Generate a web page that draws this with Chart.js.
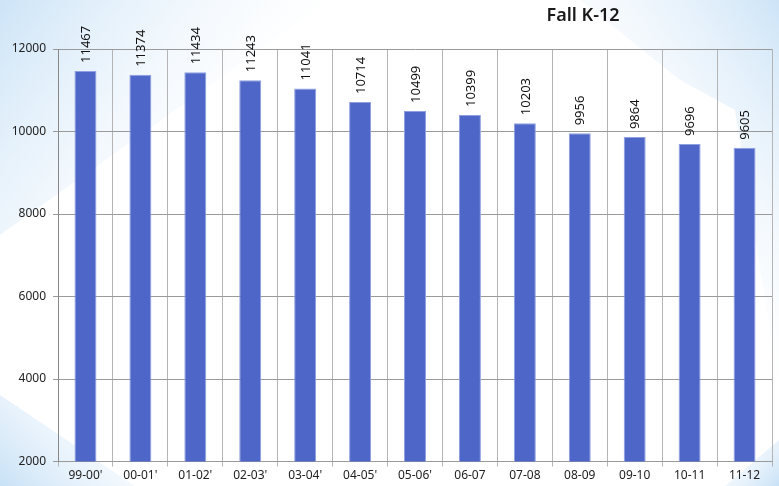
<!DOCTYPE html>
<html>
<head>
<meta charset="utf-8">
<script src="https://cdn.jsdelivr.net/npm/chart.js@4.4.0/dist/chart.umd.min.js"></script>
<style>
  html, body { margin: 0; padding: 0; background: #fff; }
  #wrap { width: 779px; height: 486px; position: relative; }
</style>
</head>
<body>
<div id="wrap"><canvas id="chart" width="779" height="486"></canvas></div>
<script>
// Data
const years = ["99-00'", "00-01'", "01-02'", "02-03'", "03-04'", "04-05'", "05-06'", "06-07", "07-08", "08-09", "09-10", "10-11", "11-12"];
const enrollment = [11467, 11374, 11434, 11243, 11041, 10714, 10499, 10399, 10203, 9956, 9864, 9696, 9605];
const titleText = "Fall K-12";

const fontFamily = "'Noto Sans', 'Open Sans', sans-serif";

// slide-like background shapes
const backdrop = {
  id: "backdrop",
  beforeDraw(chart) {
    const c = chart.ctx;
    const w = chart.width, h = chart.height;
    c.save();
    c.fillStyle = "#fff";
    c.fillRect(0, 0, w, h);

    let g = c.createLinearGradient(0, 0, 220, 160);
    g.addColorStop(0, "rgba(205,228,247,1)");
    g.addColorStop(1, "rgba(235,244,252,0)");
    c.fillStyle = g;
    c.beginPath();
    c.moveTo(0, 0);
    c.lineTo(330, 0);
    c.lineTo(0, 235);
    c.closePath();
    c.fill();

    g = c.createLinearGradient(0, h, 90, 400);
    g.addColorStop(0, "rgba(200,225,246,1)");
    g.addColorStop(1, "rgba(230,242,252,0.2)");
    c.fillStyle = g;
    c.beginPath();
    c.moveTo(0, 395);
    c.lineTo(135, h);
    c.lineTo(0, h);
    c.closePath();
    c.fill();

    g = c.createLinearGradient(w, 0, 600, 120);
    g.addColorStop(0, "rgba(205,228,247,1)");
    g.addColorStop(1, "rgba(235,244,252,0)");
    c.fillStyle = g;
    c.beginPath();
    c.moveTo(580, 0);
    c.lineTo(w, 0);
    c.lineTo(w, 390);
    c.lineTo(735, 110);
    c.lineTo(680, 80);
    c.closePath();
    c.fill();

    g = c.createLinearGradient(w, h, 740, 450);
    g.addColorStop(0, "rgba(200,225,246,1)");
    g.addColorStop(1, "rgba(230,242,252,0.3)");
    c.fillStyle = g;
    c.beginPath();
    c.moveTo(w, 440);
    c.lineTo(w, h);
    c.lineTo(725, h);
    c.closePath();
    c.fill();
    c.restore();
  }
};

// value labels above bars, rotated
const barLabels = {
  id: "barLabels",
  afterDatasetsDraw(chart) {
    const c = chart.ctx;
    const meta = chart.getDatasetMeta(0);
    c.save();
    c.font = "13px " + fontFamily;
    c.fillStyle = "#111";
    c.textAlign = "left";
    c.textBaseline = "middle";
    meta.data.forEach((bar, i) => {
      c.save();
      c.translate(bar.x, bar.y - 8);
      c.rotate(-Math.PI / 2);
      c.fillText(String(enrollment[i]), 0, 1);
      c.restore();
    });
    // title
    c.font = "600 18px " + fontFamily;
    c.textAlign = "center";
    c.fillStyle = "#1a1a1a";
    c.fillText(titleText, 583, 16);
    c.restore();
  }
};

const ctx = document.getElementById("chart").getContext("2d");
new Chart(ctx, {
  type: "bar",
  data: {
    labels: years,
    datasets: [
      {
        data: enrollment,
        backgroundColor: "#4e66c8",
        borderColor: "#8e9fe2",
        borderWidth: 1,
        barPercentage: 0.4,
        categoryPercentage: 1,
      },
    ],
  },
  options: {
    responsive: false,
    animation: false,
    layout: { padding: { top: 49, right: 7, left: 0, bottom: 0 } },
    plugins: {
      legend: { display: false },
      title: { display: false },
      tooltip: { enabled: false },
    },
    scales: {
      x: {
        grid: { color: "#b4b4b4", tickLength: 5, offset: true },
        border: { color: "#999" },
        ticks: { color: "#222", font: { family: fontFamily, size: 12 }, padding: 2, maxRotation: 0 },
        afterFit: (s) => { s.height = 24.5; },
      },
      y: {
        min: 2000,
        max: 12000,
        grid: { color: "#9a9a9a", tickLength: 5 },
        border: { color: "#888" },
        ticks: {
          stepSize: 2000,
          color: "#222",
          font: { family: fontFamily, size: 12 },
          padding: 7,
          callback: (v) => String(v),
        },
        afterFit: (s) => { s.width = 58; },
      },
    },
  },
  plugins: [backdrop, barLabels],
});
</script>
</body>
</html>
